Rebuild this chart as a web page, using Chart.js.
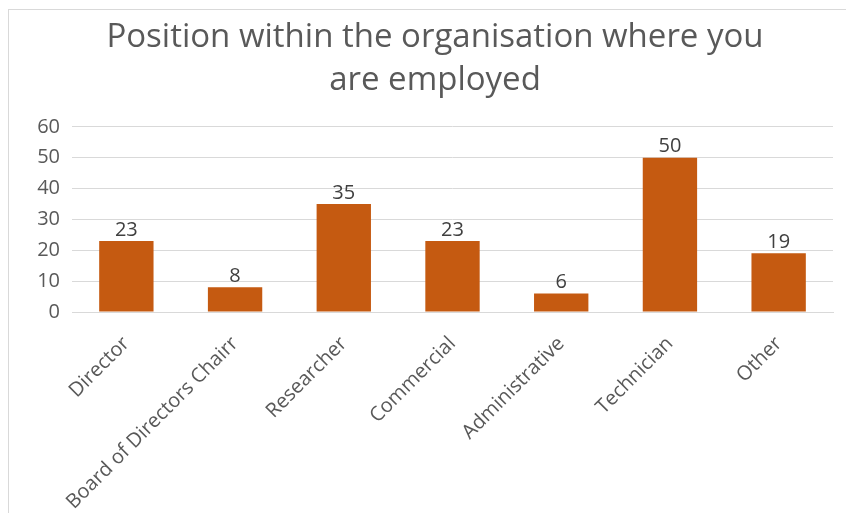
<!DOCTYPE html>
<html>
<head>
<meta charset="utf-8">
<script src="https://cdn.jsdelivr.net/npm/chart.js@4"></script>
<style>
  html, body { margin: 0; padding: 0; background: #fff; overflow: hidden; }
  #wrap { position: relative; width: 846px; height: 513px; overflow: hidden; }
  #frame {
    position: absolute; left: 8px; top: 9px; width: 900px; height: 600px;
    border: 1px solid #d9d9d9; box-sizing: border-box;
  }
  #holder { position: absolute; left: 0; top: 0; width: 870px; height: 513px; }
</style>
</head>
<body>
<div id="wrap">
  <div id="frame"></div>
  <div id="holder"><canvas id="positionChart"></canvas></div>
</div>
<script>
// Répartition des répondants par poste occupé
const positions = ['Director', 'Board of Directors Chairr', 'Researcher', 'Commercial', 'Administrative', 'Technician', 'Other'];
const counts = [23, 8, 35, 23, 6, 50, 19];
const yTicks = [0, 10, 20, 30, 40, 50, 60];
const titleLines = ['Position within the organisation where you', 'are employed'];

const FONT = "'Open Sans', 'DejaVu Sans', sans-serif";
const BAR_COLOR = '#C55A11';
const TEXT_COLOR = '#595959';

// Affiche la valeur au-dessus de chaque barre
const valueLabels = {
    id: 'valueLabels',
    afterDatasetsDraw(chart) {
        const ctx = chart.ctx;
        const meta = chart.getDatasetMeta(0);
        ctx.save();
        ctx.font = '20px ' + FONT;
        ctx.fillStyle = '#404040';
        ctx.textAlign = 'center';
        ctx.textBaseline = 'bottom';
        meta.data.forEach((bar, i) => {
            ctx.fillText(String(counts[i]), bar.x, bar.y - 1);
        });
        ctx.restore();
    }
};

// Le titre est centré sur toute la largeur du canvas, pas seulement sur la zone hors marge droite
const titleFullWidth = {
    id: 'titleFullWidth',
    afterLayout(chart) {
        if (chart.titleBlock) {
            chart.titleBlock.right = chart.width;
            chart.titleBlock.width = chart.width - chart.titleBlock.left;
        }
    }
};

const ctx = document.getElementById('positionChart').getContext('2d');
new Chart(ctx, {
    type: 'bar',
    data: {
        labels: positions,
        datasets: [{
            data: counts,
            backgroundColor: BAR_COLOR,
            borderWidth: 0,
            categoryPercentage: 1,
            barPercentage: 0.5
        }]
    },
    options: {
        responsive: true,
        maintainAspectRatio: false,
        animation: false,
        layout: { padding: { left: 0, right: 37, top: 0, bottom: 0 } },
        plugins: {
            legend: { display: false },
            tooltip: { enabled: false },
            title: {
                display: true,
                text: titleLines,
                color: TEXT_COLOR,
                font: { family: FONT, size: 33, weight: 'normal', lineHeight: 1.3 },
                padding: { top: 16, bottom: 25 }
            }
        },
        scales: {
            x: {
                grid: { display: false, drawTicks: false },
                border: { display: true, color: '#d9d9d9' },
                ticks: {
                    color: TEXT_COLOR,
                    font: { family: FONT, size: 20 },
                    autoSkip: false,
                    maxRotation: 45,
                    minRotation: 45,
                    padding: 20
                },
                afterFit(scale) { scale.height = 201; }
            },
            y: {
                min: 0,
                max: 60,
                afterBuildTicks(scale) { scale.ticks = yTicks.map(v => ({ value: v })); },
                grid: { color: '#d9d9d9', lineWidth: 1, drawTicks: false },
                border: { display: false },
                ticks: {
                    color: TEXT_COLOR,
                    font: { family: FONT, size: 20 },
                    padding: 12
                },
                afterFit(scale) { scale.width = 72; }
            }
        }
    },
    plugins: [valueLabels, titleFullWidth]
});
</script>
</body>
</html>
